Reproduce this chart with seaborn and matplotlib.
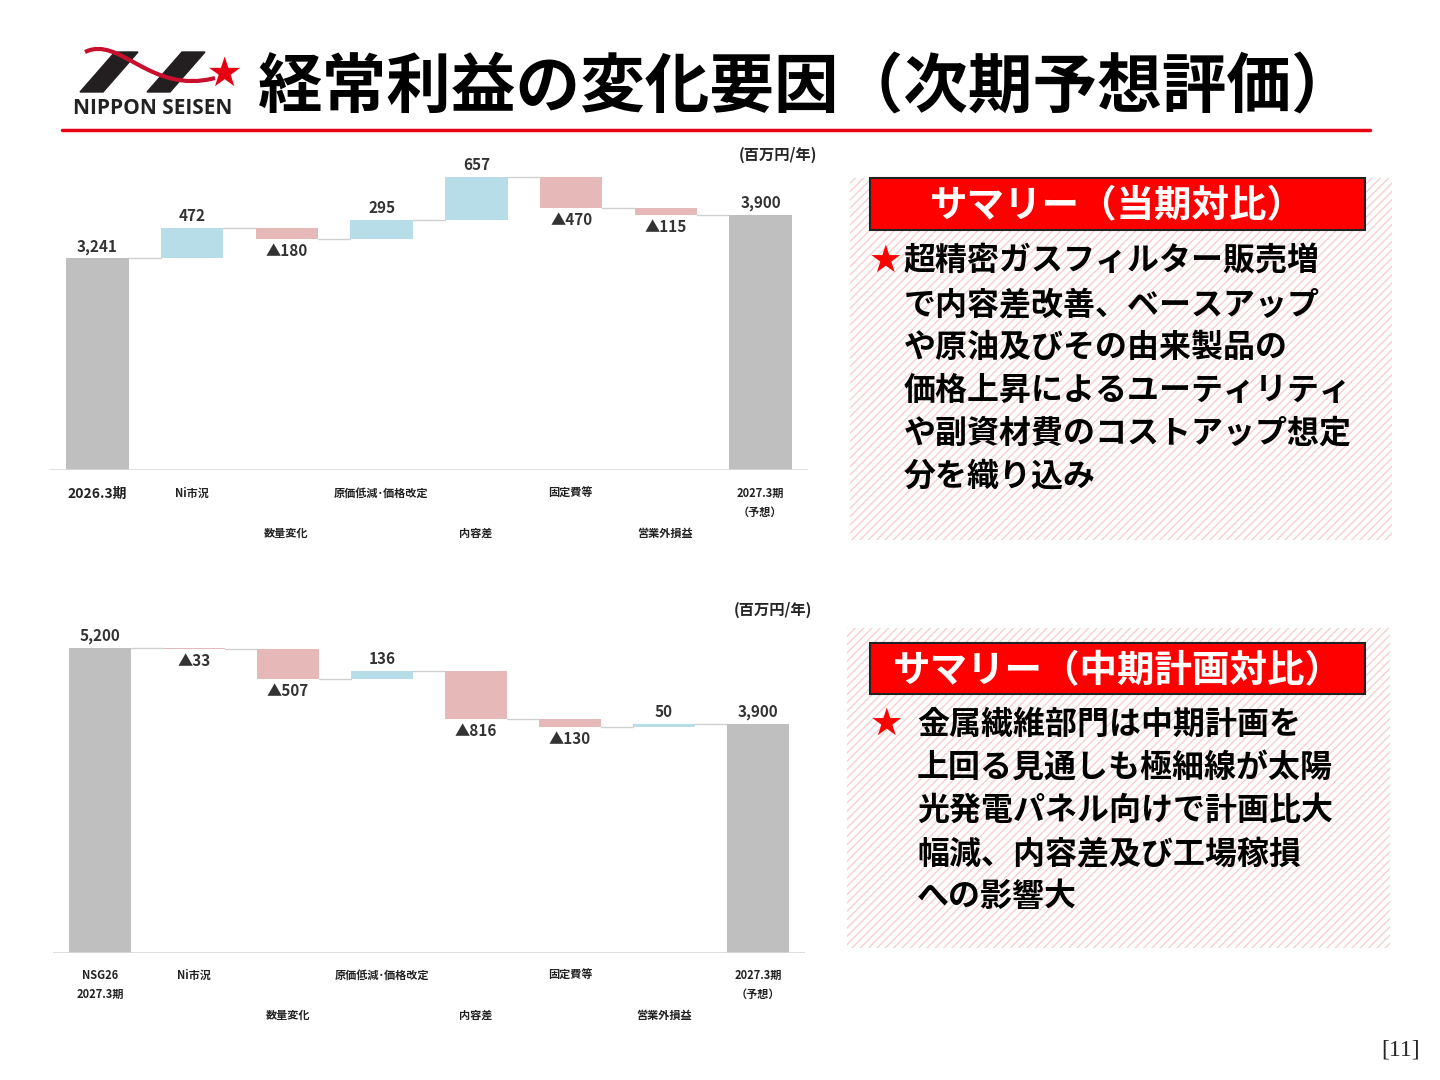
import matplotlib
matplotlib.use("Agg")
import matplotlib.pyplot as plt
import seaborn as sns
import numpy as np
from matplotlib.patches import Rectangle, Polygon
from matplotlib.path import Path
from matplotlib.patches import PathPatch

sns.set_theme(style="white")
plt.rcParams['font.family'] = ['Noto Sans CJK JP', 'DejaVu Sans']
plt.rcParams['hatch.linewidth'] = 1.0

# ---- data ----
cats1_top = ["2026.3期", "Ni市況", "数量変化", "原価低減･価格改定", "内容差", "固定費等", "営業外損益", "2027.3期\n（予想）"]
vals1 = [3241, 472, -180, 295, 657, -470, -115, 3900]
cats2 = ["NSG26\n2027.3期", "Ni市況", "数量変化", "原価低減･価格改定", "内容差", "固定費等", "営業外損益", "2027.3期\n（予想）"]
vals2 = [5200, -33, -507, 136, -816, -130, 50, 3900]

title = "経常利益の変化要因（次期予想評価）"
unit = "(百万円/年)"
summary1_title = "サマリー（当期対比）"
summary1 = ["超精密ガスフィルター販売増", "で内容差改善、ベースアップ", "や原油及びその由来製品の", "価格上昇によるユーティリティ",
            "や副資材費のコストアップ想定", "分を織り込み"]
summary2_title = "サマリー（中期計画対比）"
summary2 = ["金属繊維部門は中期計画を", "上回る見通しも極細線が太陽", "光発電パネル向けで計画比大", "幅減、内容差及び工場稼損", "への影響大"]

GRAY = "#BFBFBF"; BLUE = "#B7DEE8"; PINK = "#E6B9B8"

W, H = 1440, 1080
fig = plt.figure(figsize=(14.4, 10.8), dpi=100)
def fx(x): return x / W
def fy(y): return 1 - y / H

def waterfall(rect, cats, vals, ymax, label_fs=11):
    x0, y0, x1, y1 = rect
    ax = fig.add_axes([fx(x0), fy(y1), fx(x1) - fx(x0), fy(y0) - fy(y1)])
    n = len(vals)
    run = 0
    tops = []
    for i, v in enumerate(vals):
        if i == 0 or i == n - 1:
            bottom, h, c = 0, v, GRAY
            run = v
            lab = f"{v:,}"; ly = v; va = 'bottom'
        else:
            if v >= 0:
                bottom, h, c = run, v, BLUE
                lab = f"{v:,}"; ly = run + v; va = 'bottom'
            else:
                bottom, h, c = run + v, -v, PINK
                lab = f"▲{-v:,}"; ly = run + v; va = 'top'
            run += v
        ax.bar(i, h, bottom=bottom, width=0.66, color=c, edgecolor='none', zorder=2)
        off = ymax * 0.012
        ax.text(i, ly + (off if va == 'bottom' else -off), lab, ha='center', va=va,
                fontsize=label_fs, fontweight='bold', color='#333333')
        tops.append(run)
    for i in range(n - 1):
        ax.plot([i + 0.33, i + 1 - 0.33], [tops[i], tops[i]], color='#D0D0D0', lw=1, zorder=1)
    ax.set_xlim(-0.5, n - 0.5)
    ax.set_ylim(0, ymax)
    ax.axhline(0, color='#D9D9D9', lw=1.2)
    for s in ax.spines.values():
        s.set_visible(False)
    ax.set_xticks([]); ax.set_yticks([])
    ax.patch.set_alpha(0)
    return ax

def xlabels(cats, centers, y_top, y_bot, first_fs=10):
    for i, (c, cx) in enumerate(zip(cats, centers)):
        y = y_bot if i in (2, 4, 6) else y_top
        fs = first_fs if i == 0 else 8
        fig.text(fx(cx), fy(y), c, ha='center', va='top', fontsize=fs, fontweight='bold',
                 color='#222222', linespacing=1.6)

waterfall((50, 150, 808, 470), cats1_top, vals1, 4900)
c1 = [97 + 94.7 * i for i in range(8)]
xlabels(cats1_top, c1, 487, 527)
fig.text(fx(778), fy(155), unit, ha='center', va='center', fontsize=11, fontweight='bold')

waterfall((53, 624, 805, 953), cats2, vals2, 5600)
c2 = [100 + 94 * i for i in range(8)]
xlabels(cats2, c2, 969, 1009, first_fs=8)
fig.text(fx(773), fy(610), unit, ha='center', va='center', fontsize=11, fontweight='bold')

# ---- title & logo ----
fig.text(fx(258), fy(88), title, ha='left', va='center', fontsize=46.5, fontweight='bold', color='black')
fig.add_artist(plt.Line2D([fx(62), fx(1370)], [fy(130), fy(130)], color='#E60012', lw=2.5))
fig.text(fx(153), fy(108), "NIPPON SEISEN", ha='center', va='center', fontsize=15, fontweight='bold',
         family=['Open Sans', 'DejaVu Sans'], color='#222222')
for pts in [[(80, 92), (103, 92), (138, 52), (115, 52)], [(147, 92), (170, 92), (205, 52), (182, 52)]]:
    fig.add_artist(Polygon([(fx(a), fy(b)) for a, b in pts], closed=True, color='#231F20', transform=fig.transFigure))
verts = [(fx(85), fy(52)), (fx(120), fy(35)), (fx(150), fy(95)), (fx(215), fy(78))]
fig.add_artist(PathPatch(Path(verts, [Path.MOVETO, Path.CURVE4, Path.CURVE4, Path.CURVE4]),
                         facecolor='none', edgecolor='#C8102E', lw=3, transform=fig.transFigure))
fig.text(fx(224), fy(74), "★", ha='center', va='center', fontsize=24, color='#E60012')

# ---- summary panels ----
def panel(box, tbox, ttext, lines, y0, xtext, xstar):
    bx0, by0, bx1, by1 = box
    fig.add_artist(Rectangle((fx(bx0), fy(by1)), fx(bx1) - fx(bx0), fy(by0) - fy(by1), transform=fig.transFigure,
                             facecolor='white', edgecolor='#F6CFCF', hatch='////', lw=0))
    tx0, ty0, tx1, ty1 = tbox
    fig.add_artist(Rectangle((fx(tx0), fy(ty1)), fx(tx1) - fx(tx0), fy(ty0) - fy(ty1), transform=fig.transFigure,
                             facecolor='#FF0000', edgecolor='#222222', lw=1.5))
    fig.text(fx((tx0 + tx1) / 2), fy((ty0 + ty1) / 2 + 2), ttext, ha='center', va='center', fontsize=27,
             fontweight='bold', color='white')
    fig.text(fx(xstar), fy(y0), "★", ha='center', va='center', fontsize=27, color='#FF0000',
             family=['DejaVu Sans'])
    for k, ln in enumerate(lines):
        fig.text(fx(xtext), fy(y0 + 43 * k), ln, ha='left', va='center', fontsize=23, fontweight='bold', color='black')

panel((850, 178, 1392, 540), (870, 178, 1365, 230), summary1_title, summary1, 262, 904, 885)
panel((847, 628, 1390, 948), (870, 643, 1365, 694), summary2_title, summary2, 725, 917, 886)

fig.text(fx(1420), fy(1050), "[11]", ha='right', va='center', fontsize=17, family=['Liberation Serif', 'DejaVu Serif'])

fig.savefig("out.png", dpi=100)
